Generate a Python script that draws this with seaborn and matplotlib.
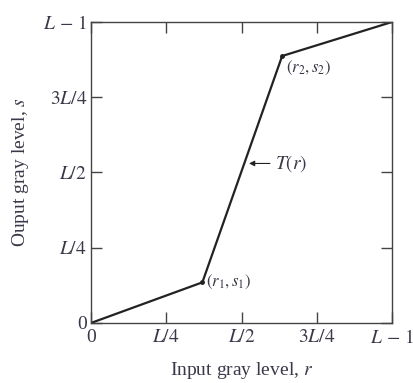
import matplotlib
matplotlib.use("Agg")
import matplotlib.pyplot as plt
import seaborn as sns
import pandas as pd

# valores (eixos normalizados, L-1 = 1)
r_vals = [0.0, 0.37, 0.635, 1.0]
s_vals = [0.0, 0.135, 0.887, 1.0]
tick_pos = [0.0, 0.25, 0.5, 0.75, 1.0]
tick_labels = ["0", "$L/4$", "$L/2$", "$3L/4$", "$L\\,-\\,1$"]

sns.set_style("ticks")
plt.rcParams["font.family"] = ["Liberation Serif", "DejaVu Serif"]
plt.rcParams["mathtext.fontset"] = "stix"

texto = "#3a3848"
df = pd.DataFrame({"r": r_vals, "s": s_vals})

fig = plt.figure(figsize=(4.14, 3.83), dpi=100)
ax = fig.add_axes([0.2198, 0.1567, 0.7271, 0.7859])

sns.lineplot(data=df, x="r", y="s", ax=ax, color="#222222", linewidth=1.6)
ax.plot(r_vals[1:3], s_vals[1:3], "o", color="#222222", markersize=2.5)

ax.set_xlim(0, 1)
ax.set_ylim(0, 1)
ax.set_xticks(tick_pos)
ax.set_yticks(tick_pos)
ax.set_xticklabels(tick_labels, fontsize=14, color=texto)
ax.set_yticklabels(tick_labels, fontsize=14, color=texto)
ax.tick_params(direction="in", length=8, width=1, top=True, right=True,
               color="#444444")
ax.tick_params(axis="x", pad=4)
ax.tick_params(axis="y", pad=3)
for sp in ax.spines.values():
    sp.set_color("#444444")
    sp.set_linewidth(1.0)

ax.set_xlabel("Input gray level, $r$", fontsize=14, color=texto, labelpad=10)
ax.set_ylabel("Ouput gray level, $s$", fontsize=14, color=texto, labelpad=8)

ax.text(r_vals[1] + 0.012, s_vals[1], "$(r_1, s_1)$", fontsize=12,
        color=texto, va="center", ha="left")
ax.text(r_vals[2] + 0.012, s_vals[2] - 0.04, "$(r_2, s_2)$", fontsize=12,
        color=texto, va="center", ha="left")
ax.annotate("$T(r)$", xy=(0.525, 0.53), xytext=(0.61, 0.53), fontsize=14,
            color=texto, va="center", ha="left",
            arrowprops=dict(arrowstyle="-|>", color="#222222", lw=0.8,
                            mutation_scale=8, shrinkA=1, shrinkB=0))

fig.savefig("out.png", dpi=100)
